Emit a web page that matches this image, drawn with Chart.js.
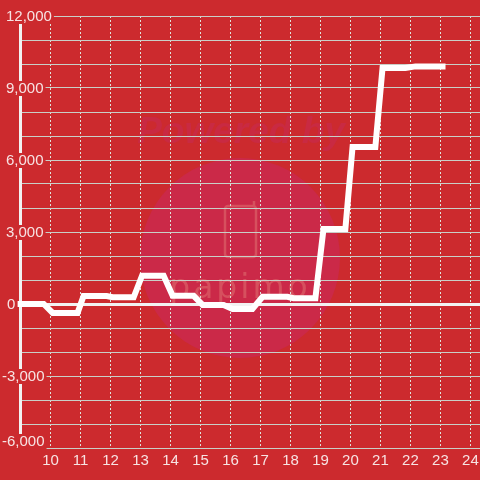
<!DOCTYPE html>
<html>
<head>
<meta charset="utf-8">
<style>
  html, body { margin: 0; padding: 0; background: #cc2a2e; }
  #wrap { width: 480px; height: 480px; }
</style>
<script src="https://cdn.jsdelivr.net/npm/chart.js@4"></script>
</head>
<body>
<div id="wrap"><canvas id="myChart" width="480" height="480"></canvas></div>
<script>
let hours = [9, 9.77, 10.07, 10.9, 11.1, 11.87, 12.07, 12.77, 13.05, 13.77, 14.07, 14.77, 15.07, 15.77, 16.07, 16.73, 17.07, 17.9, 18.1, 18.83, 19.1, 19.83, 20.07, 20.83, 21.07, 21.83, 22.17, 23.07]
let diff = [5, 5, -370, -370, 330, 330, 280, 280, 1180, 1180, 340, 340, -40, -40, -210, -210, 300, 300, 240, 240, 3120, 3120, 6540, 6540, 9830, 9830, 9900, 9900]
let xTickLabels = [10, 11, 12, 13, 14, 15, 16, 17, 18, 19, 20, 21, 22, 23, 24]
let yTickLabels = [12000, 9000, 6000, 3000, 0, -3000, -6000]

let labelFont = '15px "Liberation Sans"'
let labelColor = '#f7e3e3'
let background = '#cc2a2e'

let watermark = {
  id: 'watermark',
  beforeDraw(chart) {
    let c = chart.ctx
    c.save()
    c.fillStyle = '#cb2948'
    c.beginPath()
    c.arc(240, 258, 100, 0, Math.PI * 2)
    c.fill()

    c.fillStyle = '#c92a42'
    c.font = 'italic bold 37px "Liberation Sans"'
    c.textAlign = 'center'
    c.textBaseline = 'alphabetic'
    c.fillText('Powered by', 241, 143)

    c.strokeStyle = '#d6505e'
    c.lineWidth = 2.5
    c.beginPath()
    c.roundRect(225, 206, 31, 51, 3)
    c.stroke()
    c.beginPath()
    c.moveTo(254, 206)
    c.lineTo(254, 201)
    c.stroke()

    c.fillStyle = '#d6505e'
    c.font = '33px "DejaVu Sans"'
    c.letterSpacing = '3px'
    c.fillText('papimo', 240, 298)
    c.restore()
  }
}

// y labels sit over the axis with a red box behind them, so they are drawn here
let yLabels = {
  id: 'yLabels',
  beforeDatasetsDraw(chart) {
    let c = chart.ctx
    let y = chart.scales.y
    c.save()
    c.font = labelFont
    c.textBaseline = 'middle'
    yTickLabels.forEach(v => {
      let text = v.toLocaleString('en-US')
      let w = c.measureText(text).width
      let left = v === 0 ? 7 : v < 0 ? 2 : 6
      let py = y.getPixelForValue(v) + (v === -6000 ? -7 : 0)
      c.fillStyle = background
      c.fillRect(left - 1, py - 7, w + 3, 15)
      c.fillStyle = labelColor
      c.textAlign = 'left'
      c.fillText(text, left, py + 1)
    })
    c.restore()
  }
}

let ctx = document.getElementById('myChart').getContext('2d')

let myChart = new Chart(ctx, {
  type: 'line',
  data: {
    datasets: [{
      data: hours.map((h, i) => ({ x: h, y: diff[i] })),
      borderColor: '#ffffff',
      borderWidth: 6,
      borderCapStyle: 'square',
      borderJoinStyle: 'miter',
      pointRadius: 0,
      tension: 0,
      clip: false
    }]
  },
  options: {
    responsive: false,
    animation: false,
    layout: { padding: { left: 20, top: 16, right: 0, bottom: 0 } },
    plugins: { legend: { display: false }, tooltip: { enabled: false } },
    scales: {
      x: {
        type: 'linear',
        min: 8.98,
        max: 24.32,
        afterFit(scale) {
          scale.height = 32
          scale.paddingLeft = 0
          scale.paddingRight = 0
        },
        border: { display: false, dash: [2, 2] },
        grid: {
          drawTicks: false,
          color: '#dfe3dc',
          lineWidth: 1
        },
        ticks: {
          stepSize: 1,
          includeBounds: false,
          autoSkip: false,
          maxRotation: 0,
          padding: 4,
          color: labelColor,
          font: { family: 'Liberation Sans', size: 15 },
          callback: v => xTickLabels.includes(v) ? String(v) : ''
        }
      },
      y: {
        min: -6000,
        max: 12000,
        afterFit(scale) {
          scale.width = 0
          scale.paddingTop = 0
          scale.paddingBottom = 0
        },
        border: { display: true, color: '#f2f2f2', width: 3 },
        grid: {
          drawTicks: false,
          color: ctx => ctx.tick && ctx.tick.value === 0 ? '#f2f2f2' : '#c9cfc8',
          lineWidth: ctx => ctx.tick && ctx.tick.value === 0 ? 3 : 1
        },
        ticks: {
          stepSize: 1000,
          display: false
        }
      }
    }
  },
  plugins: [watermark, yLabels]
})
</script>
</body>
</html>
